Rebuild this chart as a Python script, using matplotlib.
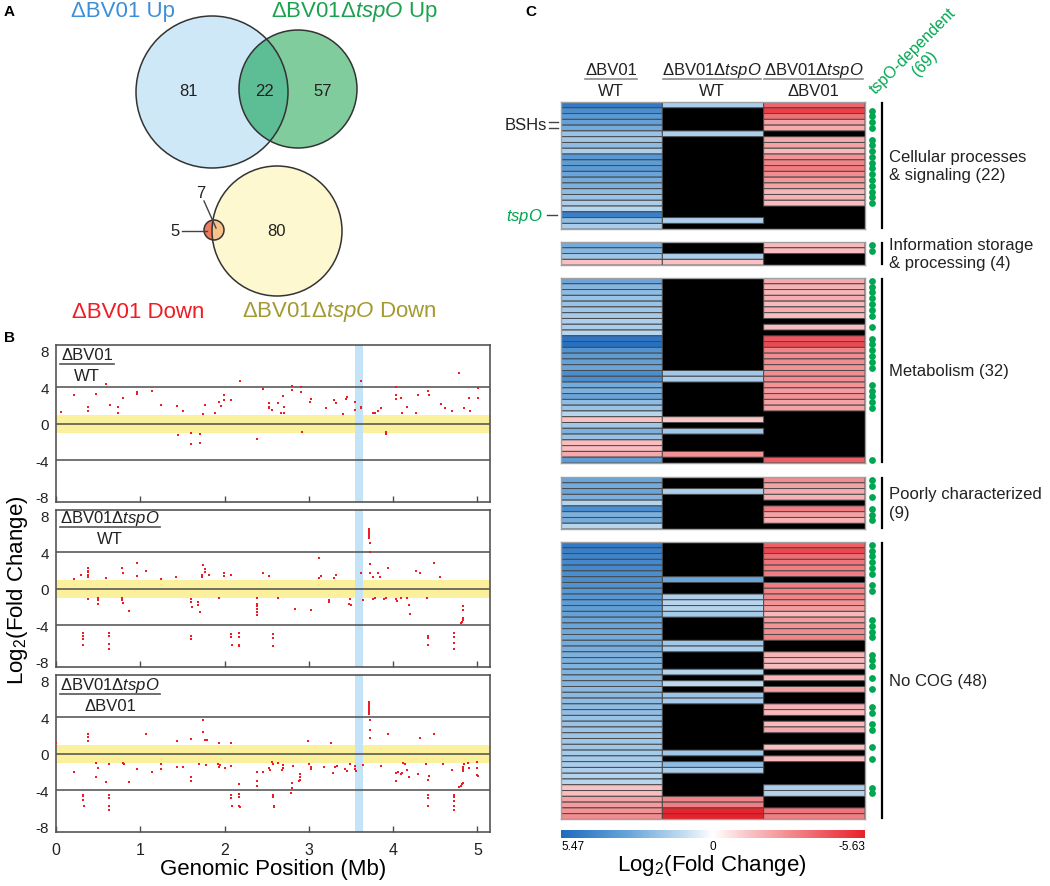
import numpy as np
import matplotlib
matplotlib.use("Agg")
import matplotlib.pyplot as plt
from matplotlib.patches import Circle
from matplotlib.lines import Line2D
from matplotlib.colors import LinearSegmentedColormap, TwoSlopeNorm
from matplotlib.cm import ScalarMappable

plt.rcParams["font.family"] = ["Liberation Sans", "DejaVu Sans"]
plt.rcParams["mathtext.fontset"] = "custom"
plt.rcParams["mathtext.rm"] = "Liberation Sans"
plt.rcParams["mathtext.it"] = "Liberation Sans:italic"

W, H = 1050, 887
NA = np.nan
DKO = "ΔBV01Δ$\\mathit{tspO}$"

# ---- panel A: venn counts
venn_titles = ["ΔBV01 Up", DKO + " Up", "ΔBV01 Down", DKO + " Down"]
up_counts = [81, 22, 57]      # BV01 only, both, dKO only
down_counts = [5, 7, 80]      # BV01 only, both, dKO only

# ---- panel B: (position Mb, log2 FC)
bv01_vs_wt = [(0.06, 1.3), (0.21, 3.2), (0.38, 1.85), (0.38, 1.45), (0.47, 3.3), (0.59, 4.4),
              (0.64, 2.1), (0.73, 1.85), (0.73, 1.25), (0.80, 2.85), (0.96, 3.5), (0.96, 3.25),
              (1.14, 3.6), (1.25, 2.1), (1.44, 1.95), (1.45, -1.25), (1.51, 1.45), (1.60, -0.95),
              (1.60, -2.25), (1.71, -1.05), (1.71, -2.1), (1.74, 1.1), (1.77, 2.1), (1.89, 1.25),
              (1.93, 2.45), (1.96, 1.95), (1.99, 3.2), (1.99, 2.6), (2.08, 2.65), (2.18, 4.7),
              (2.39, -1.6), (2.46, 3.85), (2.53, 2.35), (2.53, 1.9), (2.53, 1.7), (2.56, 1.5),
              (2.63, 2.3), (2.69, 3.1), (2.67, 1.25), (2.70, 1.9), (2.70, 1.25), (2.80, 4.2),
              (2.80, 3.7), (2.91, 4.0), (2.91, 3.5), (2.92, -0.9), (3.01, 2.45), (3.03, 2.7),
              (3.20, 1.8), (3.30, 2.6), (3.32, 2.35), (3.41, 1.1), (3.44, 2.7), (3.45, 3.0),
              (3.55, 1.5), (3.55, 2.45), (3.62, 4.7), (3.62, 1.9), (3.62, 1.75), (3.76, 1.2),
              (3.79, 1.25), (3.82, 1.45), (3.86, 1.75), (3.92, -0.9), (3.92, -1.1), (4.03, 4.1),
              (4.03, 3.2), (4.03, 2.7), (4.09, 2.85), (4.11, 1.25), (4.16, 1.85), (4.27, 1.25),
              (4.29, 3.2), (4.42, 3.6), (4.43, 3.2), (4.57, 2.2), (4.62, 1.75), (4.70, 1.4),
              (4.78, 5.6), (4.84, 1.8), (4.90, 2.85), (4.91, 1.4), (5.01, 3.9), (5.01, 2.85)]

dko_vs_wt = [(0.21, 1.05), (0.30, 1.55), (0.38, 1.85), (0.38, 1.55), (0.38, 1.3), (0.38, 2.3),
             (0.38, 2.0), (0.59, 1.2), (0.79, 1.8), (0.78, 2.3), (0.96, 1.4), (0.96, 2.85),
             (1.07, 2.0), (1.25, 1.1), (1.42, 1.35), (1.73, 1.3), (1.73, 1.55), (1.74, 2.6),
             (1.77, 2.2), (1.77, 1.9), (1.81, 1.5), (1.99, 1.8), (1.99, 1.4), (2.08, 1.55),
             (2.46, 1.7), (2.53, 1.4), (3.12, 1.2), (3.12, 3.35), (3.15, 1.4), (3.30, 1.2),
             (3.32, 1.55), (3.62, 1.7), (3.72, 6.6), (3.72, 6.4), (3.72, 6.2), (3.72, 6.0),
             (3.72, 5.8), (3.72, 5.6), (3.73, 5.0), (3.73, 4.0), (3.73, 2.7), (3.73, 1.7),
             (3.76, 1.3), (3.82, 1.7), (3.84, 1.3), (3.94, 2.3), (4.27, 2.0), (4.32, 1.8),
             (4.49, 2.85), (4.56, 1.3),
             (0.38, -1.15), (0.50, -1.0), (0.50, -1.25), (0.50, -1.6), (0.78, -1.0), (0.78, -1.25),
             (0.80, -1.5), (0.87, -2.4), (0.32, -4.8), (0.32, -5.1), (0.32, -5.45), (0.32, -6.1),
             (0.63, -4.8), (0.63, -5.2), (0.63, -6.05), (0.63, -6.55), (1.60, -1.1), (1.60, -1.4),
             (1.61, -2.0), (1.69, -1.4), (1.69, -1.75), (1.71, -2.5), (1.60, -5.1), (1.60, -5.45),
             (1.93, -1.0), (2.08, -4.95), (2.08, -5.3), (2.09, -6.1), (2.17, -4.85), (2.17, -5.3),
             (2.17, -6.1), (2.17, -6.3), (2.38, -1.0), (2.38, -1.65), (2.38, -1.85), (2.38, -2.25),
             (2.38, -2.5), (2.38, -2.9), (2.58, -4.95), (2.58, -5.35), (2.58, -6.3), (2.63, -1.0),
             (2.84, -2.25), (3.02, -2.35), (3.24, -1.25), (3.24, -1.4), (3.49, -1.15), (3.48, -1.7),
             (3.50, -1.8), (3.64, -1.25), (3.76, -1.15), (3.79, -1.0), (3.89, -1.1), (3.92, -1.0),
             (4.04, -1.15), (4.05, -1.3), (4.09, -1.0), (4.16, -1.0), (4.19, -1.75), (4.20, -2.75),
             (4.40, -0.95), (4.42, -5.1), (4.42, -5.4), (4.42, -6.1), (4.72, -4.8), (4.72, -5.3),
             (4.72, -5.95), (4.72, -6.55), (4.83, -1.9), (4.83, -2.35), (4.83, -3.15), (4.83, -3.35),
             (4.82, -3.6), (4.81, -3.75)]

dko_vs_bv01 = [(3.72, 5.7), (3.72, 5.55), (3.72, 5.4), (3.72, 5.25), (3.72, 5.1), (3.72, 4.95),
               (3.72, 4.8), (3.72, 4.6), (3.72, 4.4), (3.73, 3.7), (3.73, 2.6), (3.73, 1.7),
               (1.74, 3.75), (1.74, 2.45), (1.77, 1.55), (1.79, 1.5), (0.38, 2.15), (0.38, 1.85),
               (0.38, 1.45), (1.07, 2.2), (1.60, 1.65), (1.44, 1.4), (0.0, 1.25), (1.93, 1.15),
               (2.08, 1.15), (2.99, 1.4), (3.26, 1.15), (3.94, 2.15), (4.32, 1.75), (4.49, 2.15),
               (0.21, -2.0), (0.47, -2.55), (0.48, -0.95), (0.50, -1.5), (0.59, -3.05), (0.63, -1.15),
               (0.32, -4.45), (0.32, -4.65), (0.32, -5.0), (0.33, -5.75), (0.63, -4.45), (0.63, -4.85),
               (0.63, -5.65), (0.63, -6.15), (0.80, -1.0), (0.81, -1.1), (0.87, -3.05), (0.96, -1.65),
               (1.14, -2.0), (1.25, -1.15), (1.25, -1.65), (1.44, -1.45), (1.51, -1.4), (1.60, -2.55),
               (1.60, -3.0), (1.70, -1.1), (1.78, -1.25), (1.92, -1.1), (1.93, -1.4), (1.95, -1.25),
               (2.00, -1.55), (2.08, -1.35), (2.08, -4.45), (2.08, -4.85), (2.09, -5.65), (2.17, -3.25),
               (2.17, -4.35), (2.17, -4.75), (2.17, -5.65), (2.18, -5.8), (2.38, -2.0), (2.38, -3.0),
               (2.38, -3.55), (2.46, -2.0), (2.53, -1.5), (2.54, -1.75), (2.56, -0.85), (2.58, -1.15),
               (2.58, -4.5), (2.58, -4.75), (2.59, -5.65), (2.59, -5.8), (2.63, -0.95), (2.69, -1.25),
               (2.69, -1.5), (2.68, -1.75), (2.81, -1.35), (2.80, -3.15), (2.80, -3.75), (2.79, -4.25),
               (2.90, -2.25), (2.90, -2.5), (2.89, -2.85), (2.88, -2.95), (3.00, -1.15), (3.02, -1.4),
               (3.03, -1.6), (3.18, -1.4), (3.29, -2.05), (3.31, -1.4), (3.33, -1.35), (3.43, -1.6),
               (3.45, -1.9), (3.49, -1.1), (3.55, -1.35), (3.55, -1.65), (3.56, -1.9), (3.64, -1.25),
               (3.86, -1.35), (4.04, -2.1), (4.06, -2.0), (4.04, -3.0), (4.09, -2.25), (4.10, -2.05),
               (4.12, -1.0), (4.14, -1.15), (4.16, -1.75), (4.19, -2.55), (4.29, -2.25), (4.39, -1.15),
               (4.43, -2.45), (4.42, -2.85), (4.42, -4.55), (4.42, -4.85), (4.42, -5.65), (4.59, -1.15),
               (4.70, -1.75), (4.72, -4.45), (4.72, -4.75), (4.72, -5.15), (4.72, -5.65), (4.72, -6.15),
               (4.78, -3.65), (4.80, -3.5), (4.82, -3.25), (4.83, -3.15), (4.83, -1.4), (4.83, -1.65),
               (4.83, -1.9), (4.89, -0.95), (4.90, -1.5), (5.00, -0.85), (5.00, -1.5), (5.00, -2.35),
               (5.01, -2.45), (4.84, -1.1)]

# ---- panel C: rows of [BV01/WT, dKO/WT, dKO/BV01] log2 FC (NA = not significant)
cellular = [[4.8, 1.6, -3.8], [4.0, NA, -4.8], [3.5, NA, -3.5], [3.2, NA, -2.2], [2.8, NA, -2.0],
            [2.0, 1.5, NA], [1.8, NA, -2.0], [2.2, NA, -2.2], [1.6, NA, -1.6], [3.6, NA, -2.6],
            [3.4, NA, -3.0], [3.5, NA, -3.2], [3.0, NA, -2.8], [2.8, NA, -2.5], [2.6, NA, -2.2],
            [2.2, NA, -1.7], [2.0, NA, -1.8], [1.6, NA, -1.5], [1.3, NA, NA], [4.6, NA, NA],
            [2.2, 1.5, NA], [1.6, NA, NA]]
info = [[2.8, NA, -1.6], [2.4, NA, -1.5], [1.8, 1.6, NA], [-1.4, -1.4, NA]]
metabolism = [[3.0, NA, -2.0], [2.4, NA, -1.8], [2.2, NA, -1.7], [2.0, NA, -1.9], [2.0, NA, -1.6],
              [1.8, NA, -1.9], [1.7, NA, -1.5], [1.5, NA, NA], [1.6, NA, -1.5], [1.3, NA, NA],
              [5.0, NA, -4.2], [5.2, NA, -4.5], [3.8, NA, -3.0], [3.4, NA, -2.8], [3.2, NA, -2.8],
              [3.0, NA, -2.6], [4.0, 1.8, -2.8], [4.0, 1.6, -2.8], [2.8, NA, -2.6], [2.6, NA, -2.4],
              [3.0, NA, -2.6], [2.2, NA, -2.2], [2.0, NA, -2.2], [1.3, NA, NA], [-1.4, -1.3, NA],
              [1.8, NA, NA], [2.6, 1.8, NA], [2.0, NA, NA], [-1.5, NA, NA], [-1.5, NA, NA],
              [-2.0, -2.6, NA], [3.4, NA, -4.0]]
poorly = [[3.0, NA, -2.8], [2.8, NA, -2.2], [3.0, 1.5, -2.0], [2.6, NA, -1.8], [1.4, NA, NA],
          [4.0, NA, -3.2], [2.6, NA, -2.2], [2.8, NA, -1.8], [1.3, NA, NA]]
no_cog = [[4.8, NA, -4.0], [4.6, NA, -4.6], [4.4, NA, -3.6], [4.2, NA, -3.4], [4.2, NA, -3.2],
          [4.0, NA, -3.2], [4.0, 3.0, NA], [3.8, NA, -3.2], [3.6, NA, -3.0], [3.6, 1.5, -3.0],
          [3.4, 1.3, -2.6], [3.3, 1.4, -2.4], [3.2, 1.7, -1.6], [3.0, NA, -2.4], [3.0, NA, -2.6],
          [2.9, NA, -2.8], [2.8, NA, -3.0], [2.8, 1.8, NA], [2.7, 1.6, NA], [2.6, NA, -1.8],
          [2.6, NA, -1.6], [2.5, NA, -1.5], [2.5, 1.4, NA], [2.4, NA, -1.7], [2.4, 1.2, NA],
          [2.3, NA, -2.2], [2.3, 1.9, NA], [2.2, 1.7, NA], [2.2, NA, -1.8], [2.1, NA, -1.6],
          [2.0, NA, NA], [2.0, NA, -1.6], [1.9, NA, -2.0], [1.9, NA, NA], [1.8, NA, NA],
          [1.8, NA, -1.5], [1.7, 1.8, NA], [1.7, NA, -1.6], [1.6, 2.2, NA], [1.5, 1.6, NA],
          [1.4, NA, NA], [1.3, NA, NA], [-1.4, NA, 1.6], [-1.5, NA, 1.4], [-2.2, -3.0, NA],
          [-2.4, -3.2, NA], [-2.6, -5.5, -3.4], [-2.8, -5.6, -3.2]]
group_labels = ["Cellular processes\n& signaling (22)", "Information storage\n& processing (4)",
                "Metabolism (32)", "Poorly characterized\n(9)", "No COG (48)"]
fc_min, fc_max = -5.63, 5.47

fig = plt.figure(figsize=(W / 100, H / 100), dpi=100)


def px(l, t, w, h):
    return [l / W, 1 - (t + h) / H, w / W, h / H]


def ftext(x, y, s, **kw):
    fig.text(x / W, 1 - y / H, s, **kw)


def fline(xs, ys, **kw):
    fig.add_artist(Line2D([x / W for x in xs], [1 - y / H for y in ys],
                          transform=fig.transFigure, **kw))


def frac(cx, ly, hw, top, bot, fs, lc):
    ftext(cx, ly - 9.5, top, ha="center", va="center", fontsize=fs, color="#222222")
    fline([cx - hw, cx + hw], [ly, ly], color=lc, lw=1.2)
    ftext(cx, ly + 11.5, bot, ha="center", va="center", fontsize=fs, color="#222222")


# ================= A: Venn
ax_a = fig.add_axes(px(0, 0, 520, 330))
ax_a.set_xlim(0, 520)
ax_a.set_ylim(330, 0)
ax_a.axis("off")
c_blue = Circle((212, 93), 76, fc="#cfe8f8", ec="none")
c_green = Circle((298, 90), 59, fc="#80cc9c", ec="none")
c_yel = Circle((277, 232), 65, fc="#fdf8cf", ec="none")
c_red = Circle((214, 231), 10, fc="#f07b5f", ec="none")
for c in (c_blue, c_green, c_yel, c_red):
    ax_a.add_patch(c)
ov1 = ax_a.add_patch(Circle((298, 90), 59, fc="#5dbd95", ec="none"))
ov1.set_clip_path(c_blue)
ov2 = ax_a.add_patch(Circle((214, 231), 10, fc="#f8c38a", ec="none"))
ov2.set_clip_path(c_yel)
for c in (c_blue, c_green, c_yel, c_red):
    ax_a.add_patch(Circle(c.center, c.radius, fill=False, ec="#333333", lw=1.1))
for (x, y), v in zip([(189, 91), (264, 91), (323, 91)], up_counts):
    ax_a.text(x, y, str(v), ha="center", va="center", fontsize=12, color="#222222")
for (x, y), v in zip([(175, 232), (201, 194), (276, 232)], down_counts):
    ax_a.text(x, y, str(v), ha="center", va="center", fontsize=12, color="#222222")
ax_a.plot([182, 207], [232, 232], color="#444444", lw=1)
ax_a.plot([204, 216], [202, 229], color="#444444", lw=1)
for (x, y), s, col in zip([(123, 12), (354, 12), (138, 312), (339, 312)], venn_titles,
                          ["#3b8fd9", "#1ba24e", "#ee1c24", "#a49a30"]):
    ax_a.text(x, y, s, ha="center", va="center", fontsize=16, color=col, clip_on=False)

# ================= B: genome scatter
panels = [(346, bv01_vs_wt, 87, 365, 27, "ΔBV01", "WT"),
          (511, dko_vs_wt, 110, 528, 50, DKO, "WT"),
          (676, dko_vs_bv01, 110, 695, 50, DKO, "ΔBV01")]
for i, (top, pts, cx, ly, hw, num, den) in enumerate(panels):
    ax = fig.add_axes(px(56, top, 434, 157))
    ax.axhspan(-1, 1, color="#fbf19c", lw=0, zorder=0)
    ax.axvspan(3.55, 3.64, color="#c5e3f6", lw=0, zorder=0.5)
    for yv in (4, 0, -4):
        ax.axhline(yv, color="#4d4d4d", lw=1.1, zorder=1)
    xs, ys = zip(*pts)
    ax.scatter(xs, ys, s=3.5, marker="s", color="#ee1c24", linewidths=0, zorder=3)
    ax.set_xlim(0, 5.15)
    ax.set_ylim(-8.55, 8.65)
    ax.set_yticks([8, 4, 0, -4, -8])
    ax.set_yticklabels(["8", "4", "0", "-4", "-8"])
    ax.set_xticks([0, 1, 2, 3, 4, 5])
    ax.tick_params(axis="y", length=0, labelsize=11, pad=5, labelcolor="#222222")
    ax.tick_params(axis="x", direction="in", length=4, width=1, color="#4d4d4d",
                   labelsize=11.5, pad=7, labelbottom=(i == 2), labelcolor="#222222")
    for sp in ax.spines.values():
        sp.set_color("#555555")
        sp.set_linewidth(1.2)
    frac(cx, ly, hw, num, den, 12, "#555555")

ftext(18, 590, "Log$_2$(Fold Change)", rotation=90, ha="center", va="center", fontsize=16)
ftext(273, 870, "Genomic Position (Mb)", ha="center", va="center", fontsize=16)

# ================= C: heatmap
cmap = LinearSegmentedColormap.from_list(
    "fc", [(0.0, "#e8202a"), (0.234, "#f28589"), (0.411, "#fbd0d2"), (0.5, "#ffffff"),
           (0.591, "#c6def2"), (0.774, "#6aa6da"), (1.0, "#1e6bbf")])
norm = TwoSlopeNorm(vmin=fc_min, vcenter=0, vmax=fc_max)
row_h = 5.78
tops = [103, 243, 279, 478, 543]
for rows, top, label in zip([cellular, info, metabolism, poorly, no_cog], tops, group_labels):
    arr = np.array(rows, dtype=float)
    n = len(arr)
    ax = fig.add_axes(px(561, top, 304, n * row_h))
    ax.set_facecolor("black")
    ax.pcolor(np.ma.masked_invalid(arr), cmap=cmap, norm=norm, edgecolors="#4a4a4a", linewidth=0.7)
    ax.set_xlim(0, 3)
    ax.set_ylim(n, 0)
    ax.set_xticks([])
    ax.set_yticks([])
    for sp in ax.spines.values():
        sp.set_color("#a0a0a0")
        sp.set_linewidth(1)
    dep = ~np.isnan(arr[:, 2]) & np.isnan(arr[:, 1])
    yy = np.arange(n)[dep] + 0.5
    ax.scatter(np.full(len(yy), 3.07), yy, s=24, color="#00a651", linewidths=0, clip_on=False)
    ax.plot([3.17, 3.17], [0.25, n - 0.25], color="black", lw=1.6, clip_on=False)
    ax.text(3.24, n / 2, label, ha="left", va="center", fontsize=12, linespacing=1.3,
            color="#222222", clip_on=False)

frac(611, 80, 26, "ΔBV01", "WT", 12, "#8c8c8c")
frac(712, 80, 49, DKO, "WT", 12, "#8c8c8c")
frac(813.5, 80, 49.5, DKO, "ΔBV01", 12, "#8c8c8c")
ftext(919, 57, "tspO-dependent\n(69)", rotation=45, ha="center", va="center",
      rotation_mode="anchor", multialignment="center", fontsize=11.5, color="#00a651")
ftext(547, 125.5, "BSHs", ha="right", va="center", fontsize=12, color="#222222")
fline([549, 558], [123.2, 123.2], color="#444444", lw=1)
fline([549, 558], [129, 129], color="#444444", lw=1)
ftext(543, 216, "$\\mathit{tspO}$", ha="right", va="center", fontsize=12, color="#00a651")
fline([547, 557], [216, 216], color="#444444", lw=1)

cax = fig.add_axes(px(561, 831, 304, 8))
cb = fig.colorbar(ScalarMappable(norm=norm, cmap=cmap), cax=cax, orientation="horizontal")
cb.set_ticks([fc_max, 0, fc_min])
cax.invert_xaxis()
cb.outline.set_visible(False)
cax.tick_params(length=0, labelbottom=False)
ftext(561, 847, f"{fc_max:.2f}", ha="left", va="center", fontsize=8.5)
ftext(713, 847, "0", ha="center", va="center", fontsize=8.5)
ftext(865, 847, f"{fc_min:.2f}", ha="right", va="center", fontsize=8.5)
ftext(712, 866, "Log$_2$(Fold Change)", ha="center", va="center", fontsize=16)

# panel letters
for x, y, s in [(4, 12, "A"), (4, 338, "B"), (525, 12, "C")]:
    ftext(x, y, s, ha="left", va="center", fontsize=11, fontweight="bold")

fig.savefig("out.png", dpi=100)
